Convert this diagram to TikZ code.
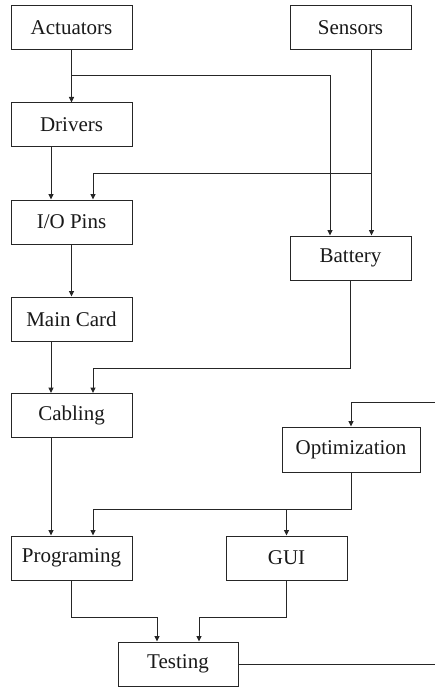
\documentclass[tikz,border=0pt]{standalone}
\usepackage{fontspec}
\setmainfont{Liberation Serif}
\usetikzlibrary{arrows.meta,calc}
\begin{document}
\begin{tikzpicture}[x=1pt,y=-1pt,
  box/.style={draw=black!85,line width=1pt,fill=white,minimum width=121pt,minimum height=44pt,inner sep=0pt,font=\fontsize{21}{24}\selectfont,text=black!90},
  arr/.style={draw=black!85,line width=1pt,-{Triangle[length=5.5pt,width=5pt]}},
  ln/.style={draw=black!85,line width=1pt}]
\useasboundingbox (0,0) rectangle (435,687);
\node[box] (act) at (71.5,28) {Actuators};
\node[box] (sen) at (350.5,28) {Sensors};
\node[box] (drv) at (71.5,125) {Drivers};
\node[box] (io) at (71.5,222) {I/O Pins};
\node[box] (bat) at (350.5,258) {Battery};
\node[box] (mc) at (71.5,319) {Main Card};
\node[box] (cab) at (71.5,415.5) {Cabling};
\node[box,minimum width=138pt,minimum height=45pt] (opt) at (351,449.5) {Optimization};
\node[box] (prog) at (71.5,558) {Programing};
\node[box] (gui) at (286.5,558) {GUI};
\node[box,minimum width=120pt] (test) at (178,664) {Testing};
% branch points
\coordinate (j1) at (71.5,76);
\coordinate (j2) at (371.5,173);
\coordinate (j3) at (286.5,509);
\coordinate (edgeA) at (435,664);
\coordinate (edgeB) at (435,402);
% connectors
\draw[arr] (act.south) -- (drv.north);
\draw[arr] (j1) -| ([xshift=-20.5pt]bat.north);
\draw[arr] ([xshift=-20.5pt]drv.south) -- ([xshift=-20.5pt]io.north);
\draw[arr] ([xshift=21pt]sen.south) -- ([xshift=21pt]bat.north);
\draw[arr] (j2) -| ([xshift=21.5pt]io.north);
\draw[arr] (io.south) -- (mc.north);
\draw[arr] ([xshift=-20.5pt]mc.south) -- ([xshift=-20.5pt]cab.north);
\draw[arr] (bat.south) -- ++(0,88) -| ([xshift=21.5pt]cab.north);
\draw[arr] ([xshift=-20.5pt]cab.south) -- ([xshift=-20.5pt]prog.north);
\draw[arr] (opt.south) -- ++(0,37) -| ([xshift=21.5pt]prog.north);
\draw[arr] (j3) -- (gui.north);
\draw[arr] (prog.south) -- ++(0,37) -| ([xshift=-21pt]test.north);
\draw[arr] (gui.south) -- ++(0,37) -| ([xshift=21pt]test.north);
\draw[ln] (test.east) -- (edgeA);
\draw[arr] (edgeB) -| (opt.north);
\end{tikzpicture}
\end{document}
